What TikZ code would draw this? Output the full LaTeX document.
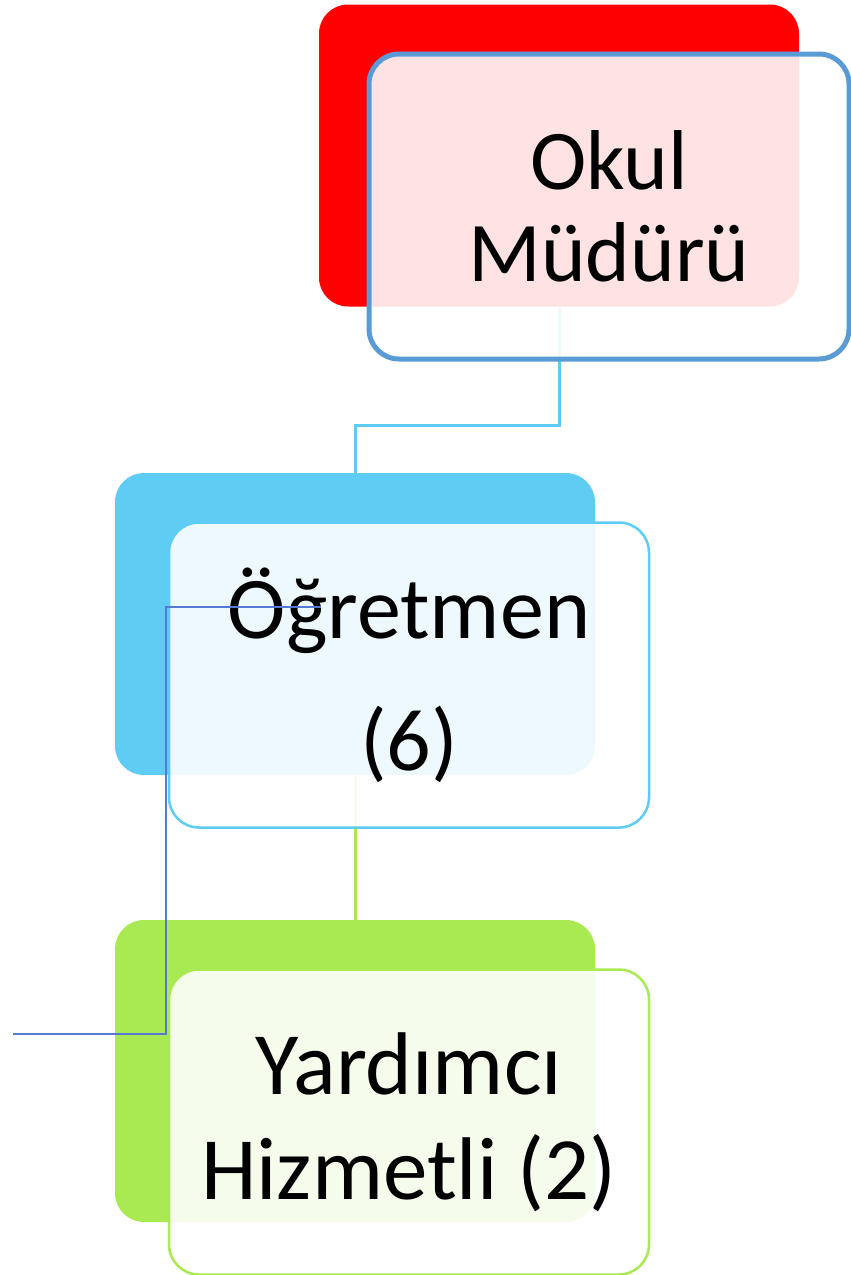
\documentclass[tikz,border=0pt]{standalone}
\usepackage{fontspec}
\setmainfont{Carlito}
\usetikzlibrary{calc}
\definecolor{okulred}{RGB}{255,0,0}
\definecolor{okulblue}{RGB}{91,155,213}
\definecolor{ogrblue}{RGB}{94,204,243}
\definecolor{yardgreen}{RGB}{169,234,83}
\definecolor{thinblue}{RGB}{86,121,212}

\begin{document}
\begin{tikzpicture}[x=1pt,y=-1pt,
  backbox/.style={rectangle,rounded corners=29pt,minimum width=480pt,minimum height=302pt,inner sep=0pt},
  frontbox/.style={rectangle,rounded corners=30pt,minimum width=480pt,minimum height=305pt,inner sep=0pt,fill=white,fill opacity=0.89,text opacity=1,align=center}]
\useasboundingbox (0,0) rectangle (851,1275);
\node[backbox,fill=okulred] (okul) at (559,155.5) {};
\node[backbox,fill=ogrblue] (ogr) at (355,624) {};
\node[backbox,fill=yardgreen] (yard) at (355,1071) {};
\draw[ogrblue,line width=3pt] (okul.south) -- ++(0,119) -| (ogr.north);
\draw[yardgreen,line width=3pt] (ogr.south) -- (yard.north);
\node[frontbox,draw=okulblue,line width=5pt,font=\fontsize{85}{92}\selectfont] (okulF) at ($(okul)+(50,51)$) {Okul\\Müdürü};
\node[frontbox,draw=ogrblue,line width=2.5pt,font=\fontsize{88}{132}\selectfont] (ogrF) at ($(ogr)+(54,51)$) {Öğretmen\\(6)};
\node[frontbox,draw=yardgreen,line width=2.5pt,font=\fontsize{89}{105}\selectfont] (yardF) at ($(yard)+(54,51)$) {Yardımcı\\Hizmetli (2)};
\coordinate (lineA) at (13,1034);
\coordinate (lineB) at (166,607);
\coordinate (lineC) at (321,607);
\draw[thinblue,line width=1.5pt] (lineA) -| (lineB) -- (lineC);
\end{tikzpicture}
\end{document}
